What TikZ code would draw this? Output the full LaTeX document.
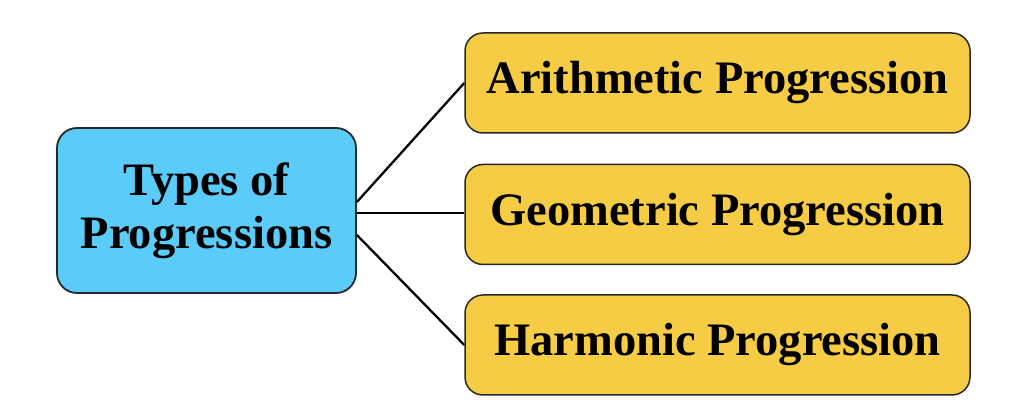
\documentclass[tikz,border=0pt]{standalone}
\usepackage{fontspec}
\setmainfont{Liberation Serif}
\definecolor{boxblue}{RGB}{91,203,250}
\definecolor{boxyellow}{RGB}{247,204,69}
\definecolor{edgegrey}{RGB}{40,40,40}
\begin{document}
\begin{tikzpicture}[x=1pt,y=1pt,
  mainbox/.style={draw=edgegrey,line width=1.8pt,rounded corners=20pt,fill=boxblue,
    minimum width=299pt,minimum height=165pt,align=center,inner sep=0pt,
    font=\fontsize{46.5}{53}\selectfont\bfseries},
  subbox/.style={draw=edgegrey,line width=1.5pt,rounded corners=18pt,fill=boxyellow,
    minimum width=505pt,minimum height=100pt,inner sep=0pt,
    font=\fontsize{46.5}{53}\selectfont\bfseries},
  link/.style={draw=black,line width=2.3pt}]
\useasboundingbox (0,0) rectangle (1024,419);
\node[mainbox] (L) at (206.5,208.5) {Types of\\Progressions};
\node[subbox] (A) at (717.5,336) {Arithmetic Progression};
\node[subbox] (G) at (717.5,204.5) {Geometric Progression};
\node[subbox] (H) at (717.5,74) {Harmonic Progression};
\coordinate (s1) at ([yshift=8.5pt]L.east);
\coordinate (s2) at ([yshift=-2.5pt]L.east);
\coordinate (s3) at ([yshift=-24.5pt]L.east);
\draw[link] (s1) -- (A.west);
\draw[link] (s2) -- ([yshift=1.5pt]G.west);
\draw[link] (s3) -- (H.west);
\end{tikzpicture}
\end{document}
